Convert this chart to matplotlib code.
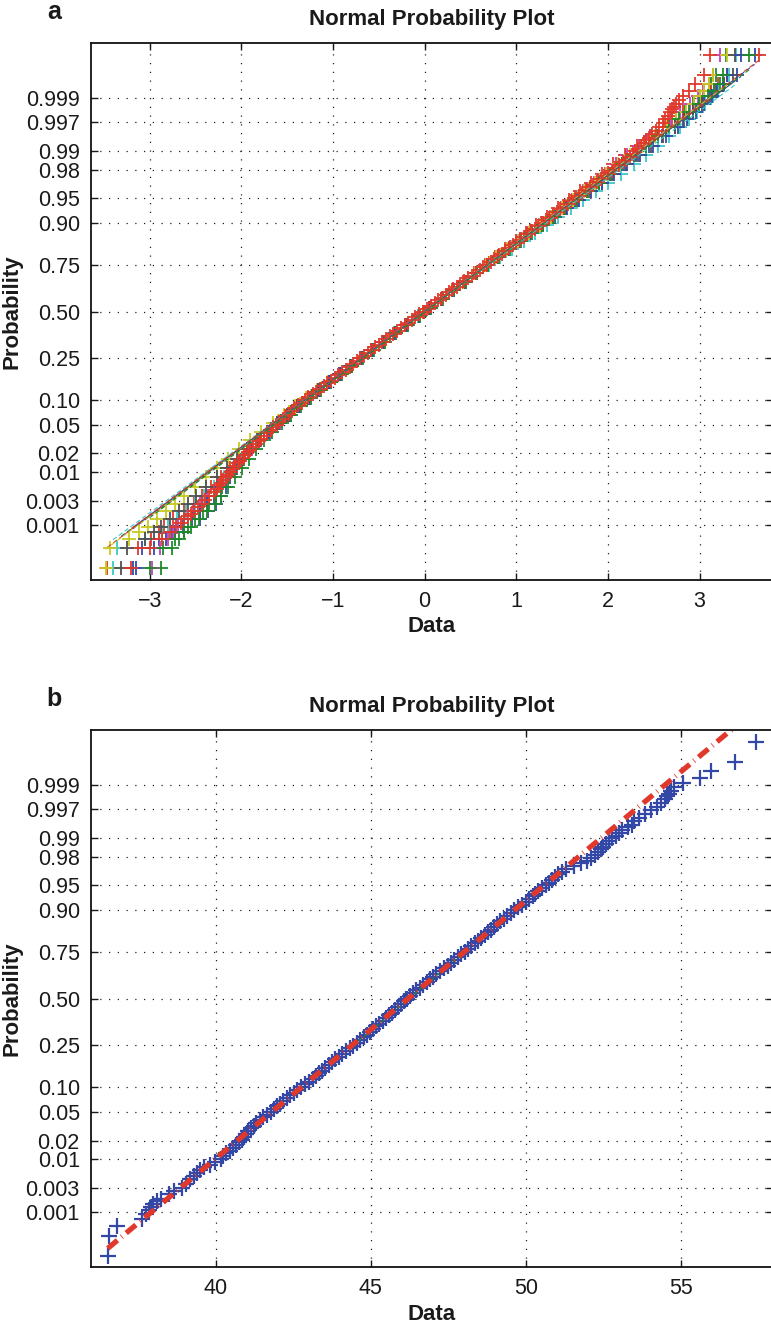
import numpy as np
import matplotlib
matplotlib.use("Agg")
import matplotlib.pyplot as plt
from statistics import NormalDist

plt.rcParams['font.family'] = ['Liberation Sans', 'DejaVu Sans']

# sample size of every column (normplot plotting position (i - 0.5) / n)
N_SAMPLES = 5000

# ---- ranks at which values were read ----
TOP_RANKS = [1, 2, 3, 4, 5, 7, 10, 14, 19, 28, 41, 59, 83, 115, 155, 205, 266, 339,
             425, 525, 640, 770, 916, 1078, 1250, 1450, 1660, 1886, 2128, 2386,
             2615, 2873, 3115, 3341, 3551, 3751, 3923, 4085, 4231, 4361, 4476,
             4576, 4662, 4735, 4796, 4846, 4886, 4918, 4942, 4960, 4973, 4982,
             4987, 4991, 4994, 4996, 4997, 4998, 4999, 5000]
DENSE_RANKS = [1, 2, 3, 4, 5, 6, 7, 8, 9, 10, 12, 14, 16, 19, 23,
               26, 30, 33, 37, 41, 46, 51, 57, 63, 70, 77, 85, 94, 104, 114, 125,
               137, 151, 165, 180, 196, 214, 233, 253, 274, 297, 322, 347, 375, 404,
               435, 467, 502, 538, 576, 615, 657, 701, 746, 794, 843, 894, 947, 1003,
               1060, 1118, 1179, 1242, 1306, 1372, 1439, 1508, 1578, 1650, 1723,
               1797, 1873, 1949, 2026, 2104, 2182, 2261, 2341, 2420, 2500,
               2501, 2581, 2660, 2740, 2819, 2897, 2975, 3052, 3128, 3204, 3278,
               3351, 3423, 3493, 3562, 3629, 3695, 3759, 3822, 3883, 3941, 3998,
               4054, 4107, 4158, 4207, 4255, 4300, 4344, 4386, 4425, 4463, 4499,
               4534, 4566, 4597, 4626, 4654, 4679, 4704, 4727, 4748, 4768, 4787,
               4805, 4821, 4836, 4850, 4864, 4876, 4887, 4897, 4907, 4916, 4924,
               4931, 4938, 4944, 4950, 4955, 4960, 4964, 4968, 4971, 4975,
               4978, 4982, 4985, 4987, 4989, 4991, 4992, 4993, 4994, 4995, 4996,
               4997, 4998, 4999, 5000]

# ---- panel a: ten standardised columns ----
TOP_BLUE_1 = [-3.18, -3.08, -2.90, -2.76, -2.62, -2.45, -2.36, -2.28, -2.22, -2.17,
              -2.12, -2.06, -1.99, -1.91, -1.81, -1.70, -1.60, -1.49, -1.38, -1.27,
              -1.15, -1.04, -0.92, -0.80, -0.69, -0.57, -0.45, -0.33, -0.20, -0.07,
              0.05, 0.18, 0.31, 0.43, 0.55, 0.67, 0.79, 0.91, 1.03, 1.15,
              1.27, 1.39, 1.52, 1.64, 1.77, 1.90, 2.03, 2.17, 2.31, 2.45,
              2.59, 2.73, 2.82, 2.93, 3.02, 3.10, 3.16, 3.25, 3.41, 3.60]
TOP_GREEN_1 = [-2.88, -2.76, -2.68, -2.62, -2.58, -2.50, -2.42, -2.35, -2.28, -2.21,
               -2.13, -2.05, -1.97, -1.89, -1.79, -1.68, -1.58, -1.47, -1.36, -1.25,
               -1.14, -1.02, -0.91, -0.79, -0.68, -0.56, -0.44, -0.32, -0.19, -0.06,
               0.06, 0.19, 0.32, 0.44, 0.56, 0.68, 0.80, 0.92, 1.04, 1.16,
               1.28, 1.40, 1.53, 1.65, 1.77, 1.90, 2.02, 2.15, 2.28, 2.41,
               2.54, 2.66, 2.74, 2.84, 2.93, 3.00, 3.05, 3.12, 3.18, 3.29]
TOP_RED_1 = [-3.46, -3.13, -2.98, -2.90, -2.84, -2.74, -2.63, -2.52, -2.43, -2.33,
             -2.22, -2.12, -2.02, -1.92, -1.82, -1.71, -1.61, -1.50, -1.39, -1.28,
             -1.16, -1.05, -0.93, -0.81, -0.70, -0.58, -0.46, -0.33, -0.21, -0.07,
             0.05, 0.18, 0.30, 0.42, 0.54, 0.66, 0.77, 0.88, 1.00, 1.11,
             1.22, 1.34, 1.46, 1.58, 1.70, 1.82, 1.94, 2.06, 2.19, 2.32,
             2.46, 2.60, 2.70, 2.82, 2.94, 3.05, 3.12, 3.20, 3.30, 3.65]
TOP_CYAN = [-3.40, -3.36, -3.05, -2.87, -2.80, -2.70, -2.60, -2.50, -2.41, -2.30,
            -2.19, -2.09, -1.99, -1.89, -1.79, -1.69, -1.59, -1.48, -1.37, -1.26,
            -1.15, -1.04, -0.92, -0.81, -0.69, -0.57, -0.45, -0.33, -0.20, -0.07,
            0.06, 0.19, 0.32, 0.45, 0.57, 0.70, 0.82, 0.95, 1.08, 1.20,
            1.33, 1.46, 1.60, 1.73, 1.87, 2.00, 2.14, 2.28, 2.42, 2.55,
            2.67, 2.79, 2.88, 2.97, 3.06, 3.14, 3.20, 3.26, 3.32, 3.40]
TOP_MAGENTA = [-2.97, -2.89, -2.80, -2.74, -2.69, -2.62, -2.53, -2.45, -2.37, -2.27,
               -2.17, -2.07, -1.98, -1.88, -1.78, -1.68, -1.58, -1.47, -1.36, -1.25,
               -1.14, -1.03, -0.92, -0.80, -0.69, -0.57, -0.45, -0.32, -0.20, -0.06,
               0.06, 0.19, 0.31, 0.43, 0.55, 0.67, 0.78, 0.90, 1.01, 1.13,
               1.25, 1.37, 1.49, 1.61, 1.73, 1.85, 1.97, 2.09, 2.21, 2.34,
               2.47, 2.60, 2.69, 2.79, 2.89, 2.98, 3.04, 3.10, 3.15, 3.22]
TOP_YELLOW = [-3.48, -3.43, -3.22, -3.12, -3.02, -2.92, -2.82, -2.72, -2.62, -2.50,
              -2.38, -2.26, -2.14, -2.02, -1.90, -1.78, -1.65, -1.53, -1.41, -1.29,
              -1.17, -1.05, -0.93, -0.81, -0.69, -0.57, -0.45, -0.32, -0.19, -0.06,
              0.06, 0.19, 0.31, 0.43, 0.55, 0.67, 0.78, 0.90, 1.02, 1.14,
              1.26, 1.38, 1.50, 1.62, 1.74, 1.86, 1.98, 2.11, 2.24, 2.37,
              2.51, 2.64, 2.74, 2.85, 2.94, 3.00, 3.05, 3.10, 3.14, 3.30]
TOP_GRAY = [-3.31, -3.25, -3.05, -2.95, -2.88, -2.78, -2.68, -2.58, -2.49, -2.38,
            -2.27, -2.16, -2.05, -1.94, -1.83, -1.72, -1.61, -1.50, -1.39, -1.27,
            -1.16, -1.04, -0.93, -0.81, -0.69, -0.57, -0.45, -0.32, -0.20, -0.06,
            0.06, 0.19, 0.32, 0.44, 0.56, 0.68, 0.80, 0.92, 1.04, 1.16,
            1.29, 1.41, 1.54, 1.67, 1.80, 1.93, 2.06, 2.20, 2.33, 2.47,
            2.60, 2.73, 2.83, 2.93, 3.03, 3.12, 3.18, 3.26, 3.36, 3.38]
TOP_BLUE_2 = [-3.15, -2.95, -2.82, -2.72, -2.64, -2.54, -2.45, -2.37, -2.30, -2.22,
              -2.14, -2.06, -1.98, -1.89, -1.80, -1.70, -1.59, -1.48, -1.37, -1.26,
              -1.15, -1.04, -0.92, -0.80, -0.69, -0.57, -0.45, -0.32, -0.19, -0.06,
              0.06, 0.19, 0.31, 0.44, 0.56, 0.68, 0.80, 0.92, 1.04, 1.16,
              1.29, 1.42, 1.55, 1.68, 1.81, 1.94, 2.07, 2.21, 2.35, 2.49,
              2.63, 2.76, 2.86, 2.96, 3.05, 3.13, 3.19, 3.25, 3.30, 3.45]
TOP_GREEN_2 = [-3.00, -2.85, -2.72, -2.62, -2.55, -2.46, -2.37, -2.29, -2.22, -2.14,
               -2.07, -1.99, -1.92, -1.84, -1.75, -1.66, -1.56, -1.46, -1.35, -1.24,
               -1.13, -1.02, -0.90, -0.79, -0.67, -0.55, -0.43, -0.31, -0.18, -0.05,
               0.07, 0.20, 0.32, 0.45, 0.57, 0.69, 0.81, 0.93, 1.05, 1.17,
               1.29, 1.41, 1.53, 1.65, 1.78, 1.90, 2.02, 2.15, 2.28, 2.41,
               2.54, 2.67, 2.77, 2.88, 2.99, 3.09, 3.16, 3.22, 3.25, 3.54]
# last column (red, drawn on top), read at DENSE_RANKS
TOP_RED_2 = [-3.20, -3.00, -2.87, -2.78, -2.71, -2.66, -2.62, -2.58, -2.55, -2.52,
             -2.47, -2.43, -2.40, -2.35, -2.30,
             -2.27, -2.245, -2.22, -2.195, -2.17, -2.14, -2.115, -2.09, -2.07, -2.04,
             -2.01, -1.98, -1.955, -1.93, -1.90, -1.87, -1.84, -1.81, -1.78, -1.75,
             -1.72, -1.68, -1.65, -1.62, -1.59, -1.55, -1.52, -1.48, -1.45, -1.42,
             -1.38, -1.34, -1.30, -1.27, -1.22, -1.18, -1.14, -1.10, -1.06, -1.02,
             -0.98, -0.94, -0.90, -0.86, -0.81, -0.78, -0.74, -0.70, -0.66, -0.62,
             -0.58, -0.54, -0.50, -0.47, -0.42, -0.38, -0.34, -0.30, -0.26, -0.21,
             -0.18, -0.14, -0.10, -0.06, -0.02,
             -0.01, 0.03, 0.07, 0.11, 0.15, 0.19, 0.23, 0.27, 0.31, 0.35,
             0.39, 0.43, 0.47, 0.52, 0.56, 0.60, 0.64, 0.68, 0.72, 0.76,
             0.80, 0.84, 0.88, 0.92, 0.96, 1.00, 1.04, 1.08, 1.12, 1.16,
             1.20, 1.24, 1.28, 1.32, 1.36, 1.40, 1.44, 1.48, 1.52, 1.56,
             1.60, 1.64, 1.68, 1.72, 1.76, 1.80, 1.84, 1.88, 1.92, 1.96,
             2.00, 2.04, 2.08, 2.12, 2.16, 2.20, 2.24, 2.27, 2.30, 2.33,
             2.36, 2.39, 2.42, 2.45, 2.48,
             2.52, 2.56, 2.60, 2.62, 2.65, 2.68, 2.70, 2.72, 2.74, 2.77, 2.82,
             2.88, 2.95, 3.05, 3.11]

TOP_SERIES = [TOP_BLUE_1, TOP_GREEN_1, TOP_RED_1, TOP_CYAN, TOP_MAGENTA,
              TOP_YELLOW, TOP_GRAY, TOP_BLUE_2, TOP_GREEN_2, TOP_RED_2]
TOP_SERIES_RANKS = [TOP_RANKS] * 9 + [DENSE_RANKS]
# matlab default colour order, as printed
TOP_COLORS = ['#3549a8', '#1e8a2a', '#e0392b', '#3cc8c8', '#c040c0',
              '#c8c820', '#505050', '#3549a8', '#1e8a2a', '#e0392b']

# ---- panel b: one column, read at DENSE_RANKS ----
BOT_VALUES = [36.51, 36.55, 36.81, 37.62, 37.73, 37.83, 37.92, 37.98, 38.10, 38.22,
              38.50, 38.64, 38.90, 39.05, 39.18,
              39.30, 39.40, 39.50, 39.63, 39.80, 39.98, 40.15, 40.22, 40.33, 40.45,
              40.55, 40.65, 40.74, 40.83, 40.91, 40.98, 41.05, 41.13, 41.22, 41.31,
              41.41, 41.53, 41.65, 41.77, 41.87, 41.97, 42.07, 42.17, 42.29, 42.40,
              42.52, 42.63, 42.75, 42.87, 42.99, 43.13, 43.24, 43.34, 43.43, 43.53,
              43.64, 43.75, 43.86, 43.97, 44.08, 44.20, 44.32, 44.43, 44.54, 44.65,
              44.77, 44.87, 44.97, 45.08, 45.18, 45.28, 45.38, 45.48, 45.58, 45.67,
              45.77, 45.87, 45.96, 46.06, 46.15,
              46.16, 46.26, 46.37, 46.47, 46.58, 46.69, 46.80, 46.91, 47.01, 47.12,
              47.24, 47.36, 47.48, 47.59, 47.69, 47.80, 47.91, 48.03, 48.14, 48.25,
              48.35, 48.46, 48.57, 48.67, 48.78, 48.88, 48.98, 49.08, 49.18, 49.29,
              49.40, 49.52, 49.62, 49.76, 49.88, 50.02, 50.12, 50.22, 50.31, 50.39,
              50.52, 50.65, 50.74, 50.84, 50.93, 51.05, 51.18, 51.31, 51.55, 51.78,
              51.98, 52.12, 52.22, 52.33, 52.42, 52.50, 52.60, 52.70, 52.80, 52.90,
              53.01, 53.12, 53.30, 53.42, 53.50,
              53.65, 53.84, 54.05, 54.24, 54.35, 54.48, 54.55, 54.62, 54.70, 54.78,
              55.08, 55.61, 55.99, 56.74, 57.44]
# fitted normal drawn as the red line in panel b
FIT_MU = 46.2
FIT_SIGMA = 2.68

PROB_TICKS = [0.001, 0.003, 0.01, 0.02, 0.05, 0.10, 0.25, 0.50,
              0.75, 0.90, 0.95, 0.98, 0.99, 0.997, 0.999]
PROB_LABELS = ['0.001', '0.003', '0.01', '0.02', '0.05', '0.10', '0.25', '0.50',
               '0.75', '0.90', '0.95', '0.98', '0.99', '0.997', '0.999']
Z_LIM = 3.89

_nd = NormalDist()


def prob_to_z(p):
    p = np.clip(np.asarray(p, dtype=float), 1e-12, 1 - 1e-12)
    return np.vectorize(_nd.inv_cdf, otypes=[float])(p)


def z_to_prob(z):
    return np.vectorize(_nd.cdf, otypes=[float])(np.asarray(z, dtype=float))


def positions(ranks, n):
    return (np.asarray(ranks, dtype=float) - 0.5) / n


def ref_line(values, probs):
    # normplot style line through the first and third quartile, min..max of data
    values = np.asarray(values)
    i1 = np.argmin(np.abs(probs - 0.25))
    i3 = np.argmin(np.abs(probs - 0.75))
    z1, z3 = prob_to_z(probs[i1]), prob_to_z(probs[i3])
    xs = np.array([values.min(), values.max()])
    zs = z1 + (xs - values[i1]) * (z3 - z1) / (values[i3] - values[i1])
    return xs, z_to_prob(zs)


def style_axes(ax, xticks, xlim, letter):
    ax.set_yscale('function', functions=(prob_to_z, z_to_prob))
    ax.set_ylim(float(z_to_prob(-Z_LIM)), float(z_to_prob(Z_LIM)))
    ax.set_xlim(*xlim)
    ax.set_yticks(PROB_TICKS)
    ax.set_yticklabels(PROB_LABELS)
    ax.set_xticks(xticks)
    ax.minorticks_off()
    ax.grid(True, linestyle=(0, (1, 6)), linewidth=0.9, color='#222222')
    ax.set_axisbelow(True)
    ax.tick_params(direction='in', length=5, width=1, top=True, right=True,
                   labelsize=15.5, pad=8, colors='#1a1a1a')
    for s in ax.spines.values():
        s.set_linewidth(1.3)
        s.set_color('#111111')
    ax.set_title('Normal Probability Plot', fontsize=16, fontweight='bold',
                 pad=13, color='#1a1a1a')
    ax.set_xlabel('Data', fontsize=16, fontweight='bold', labelpad=3, color='#1a1a1a')
    ax.set_ylabel('Probability', fontsize=16, fontweight='bold', labelpad=2,
                  color='#1a1a1a')
    pos = ax.get_position()
    fig.text(0.070, pos.y1 + 0.0235, letter, fontsize=18, fontweight='bold',
             ha='center', va='center', color='#1a1a1a')


fig = plt.figure(figsize=(7.71, 13.24), dpi=100)
ax_a = fig.add_axes([0.1180, 0.5619, 0.8846, 0.4056])
ax_b = fig.add_axes([0.1180, 0.0428, 0.8846, 0.4058])

# panel a
for vals, ranks, col in zip(TOP_SERIES, TOP_SERIES_RANKS, TOP_COLORS):
    ax_a.plot(vals, positions(ranks, N_SAMPLES), '+', color=col, markersize=10.5,
              markeredgewidth=1.3, linestyle='none')
for vals, ranks, col in zip(TOP_SERIES, TOP_SERIES_RANKS, TOP_COLORS):
    xs, ps = ref_line(vals, positions(ranks, N_SAMPLES))
    ax_a.plot(xs, ps, color=col, linewidth=0.8, linestyle=(0, (4, 2.5)))
style_axes(ax_a, [-3, -2, -1, 0, 1, 2, 3], (-3.64, 3.80), 'a')

# panel b
p_bot = positions(DENSE_RANKS, N_SAMPLES)
ax_b.plot(BOT_VALUES, p_bot, '+', color='#3347a6', markersize=11,
          markeredgewidth=1.6, linestyle='none')
b_vals = np.asarray(BOT_VALUES)
q1 = np.argmin(np.abs(p_bot - 0.25))
q3 = np.argmin(np.abs(p_bot - 0.75))
ax_b.plot([b_vals[q1], b_vals[q3]], [p_bot[q1], p_bot[q3]], color='#2a8a2a',
          linewidth=0.8, linestyle=(0, (4, 2.5)))
fit_x = np.array([b_vals.min(), b_vals.max()])
ax_b.plot(fit_x, z_to_prob((fit_x - FIT_MU) / FIT_SIGMA), color='#e0392b',
          linewidth=3.8, linestyle=(0, (2.4, 1.0, 0.15, 1.0)), solid_capstyle='butt',
          dash_capstyle='butt')
style_axes(ax_b, [40, 45, 50, 55], (35.97, 57.98), 'b')

fig.savefig('out.png', dpi=100)
